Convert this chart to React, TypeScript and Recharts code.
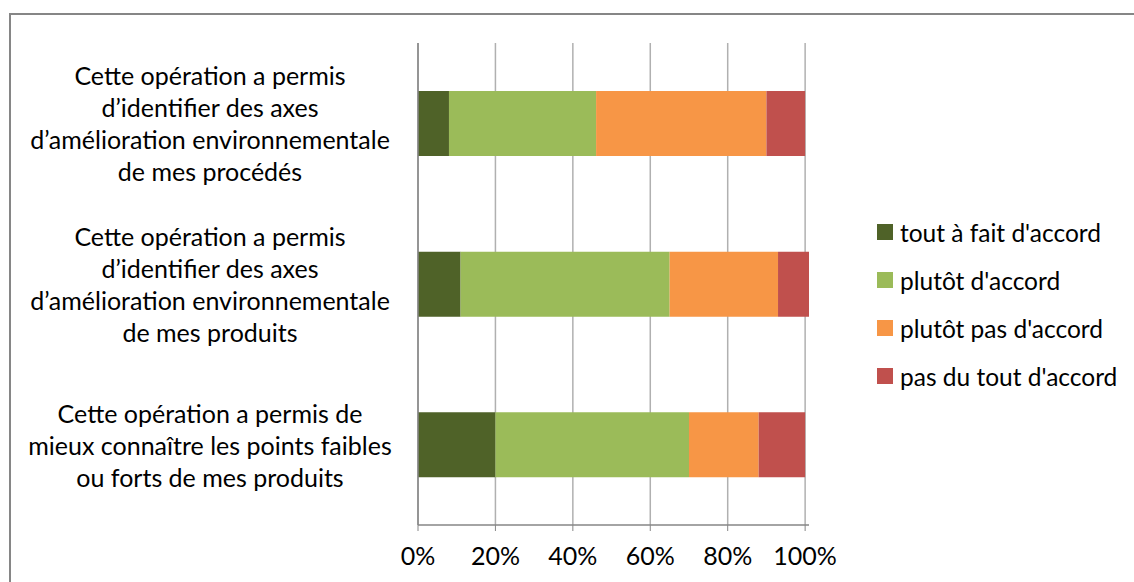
import React from 'react';
import { BarChart, Bar, XAxis, YAxis, CartesianGrid, Legend } from 'recharts';

// Survey statements, one array of wrapped lines per bar (top to bottom)
const categoryLines: string[][] = [
  ['Cette opération a permis', 'd’identifier des axes', 'd’amélioration environnementale', 'de mes procédés'],
  ['Cette opération a permis', 'd’identifier des axes', 'd’amélioration environnementale', 'de mes produits'],
  ['Cette opération a permis de', 'mieux connaître les points faibles', 'ou forts de mes produits'],
];

// Share of answers (%) per statement
const toutAFait = [8, 11, 20];
const plutot = [38, 54, 50];
const plutotPas = [44, 28, 18];
const pasDuTout = [10, 8, 12];

const seriesNames = ["tout à fait d'accord", "plutôt d'accord", "plutôt pas d'accord", "pas du tout d'accord"];
const xTicks = [0, 20, 40, 60, 80, 100];
const boundaryTicks = [0, 1, 2, 3];

const COLORS = ['#4F6228', '#9BBB59', '#F79646', '#C0504D'];
const FONT = 'Lato, "Open Sans", sans-serif';
const AXIS_GRAY = '#868686';
const GRID_GRAY = '#B0B0B0';

const data = categoryLines.map((lines, i) => ({
  name: lines.join('\n'),
  a: toutAFait[i],
  b: plutot[i],
  c: plutotPas[i],
  d: pasDuTout[i],
}));

const LABEL_CENTER_X = 210;
const LINE_HEIGHT = 32;

const CategoryTick = (props: any) => {
  const { y, payload } = props;
  const lines = String(payload.value).split('\n');
  const n = lines.length;
  return (
    <text textAnchor="middle" fontFamily={FONT} fontSize={25} fill="#000" dominantBaseline="central">
      {lines.map((line, i) => (
        <tspan key={i} x={LABEL_CENTER_X} y={y + (i - (n - 1) / 2) * LINE_HEIGHT}>
          {line}
        </tspan>
      ))}
    </text>
  );
};

const LegendContent = (props: any) => {
  const payload = props.payload || [];
  return (
    <ul style={{ listStyle: 'none', margin: 0, padding: 0 }}>
      {payload.map((entry: any, i: number) => (
        <li key={i} style={{ display: 'flex', alignItems: 'center', height: 48 }}>
          <span style={{ display: 'inline-block', width: 16, height: 16, background: entry.color, marginRight: 7 }} />
          <span style={{ fontFamily: FONT, fontSize: 24.5, color: '#000', whiteSpace: 'nowrap' }}>{entry.value}</span>
        </li>
      ))}
    </ul>
  );
};

export default function App() {
  return (
    <div style={{ position: 'fixed', left: 0, top: 0, width: 1134, height: 582, overflow: 'hidden', background: '#fff' }}>
      <div
        style={{
          position: 'absolute',
          left: 9,
          top: 13,
          width: 2000,
          height: 2000,
          borderTop: `2px solid ${AXIS_GRAY}`,
          borderLeft: `2px solid ${AXIS_GRAY}`,
        }}
      />
      <div style={{ position: 'absolute', left: 0, top: 0 }}>
        <BarChart
          width={1134}
          height={582}
          data={data}
          layout="vertical"
          margin={{ top: 43, right: 325, bottom: 7, left: 2 }}
          barSize={65}
        >
          <CartesianGrid horizontal={false} verticalValues={xTicks} stroke={GRID_GRAY} strokeWidth={1.5} />
          <YAxis
            yAxisId="bounds"
            type="number"
            orientation="left"
            width={0}
            domain={[0, 3]}
            ticks={boundaryTicks}
            interval={0}
            tick={false}
            tickSize={9}
            tickLine={{ stroke: AXIS_GRAY }}
            axisLine={false}
          />
          <YAxis
            yAxisId="cat"
            type="category"
            dataKey="name"
            width={416}
            tickLine={false}
            axisLine={{ stroke: AXIS_GRAY, strokeWidth: 1.5 }}
            tick={<CategoryTick />}
            interval={0}
          />
          <XAxis
            type="number"
            domain={[0, 100]}
            ticks={xTicks}
            interval={0}
            height={50}
            tickFormatter={(v: number) => `${v}%`}
            tick={{ fontFamily: FONT, fontSize: 25, fill: '#000' }}
            tickSize={6}
            tickMargin={16}
            tickLine={{ stroke: AXIS_GRAY }}
            axisLine={{ stroke: AXIS_GRAY, strokeWidth: 1.5 }}
          />
          <Legend
            layout="vertical"
            align="center"
            verticalAlign="middle"
            itemSorter="dataKey"
            wrapperStyle={{ left: 877, top: 208, width: 257 }}
            content={<LegendContent />}
          />
          <Bar yAxisId="cat" dataKey="a" name={seriesNames[0]} stackId="s" fill={COLORS[0]} isAnimationActive={false} />
          <Bar yAxisId="cat" dataKey="b" name={seriesNames[1]} stackId="s" fill={COLORS[1]} isAnimationActive={false} />
          <Bar yAxisId="cat" dataKey="c" name={seriesNames[2]} stackId="s" fill={COLORS[2]} isAnimationActive={false} />
          <Bar yAxisId="cat" dataKey="d" name={seriesNames[3]} stackId="s" fill={COLORS[3]} isAnimationActive={false} />
        </BarChart>
      </div>
    </div>
  );
}
